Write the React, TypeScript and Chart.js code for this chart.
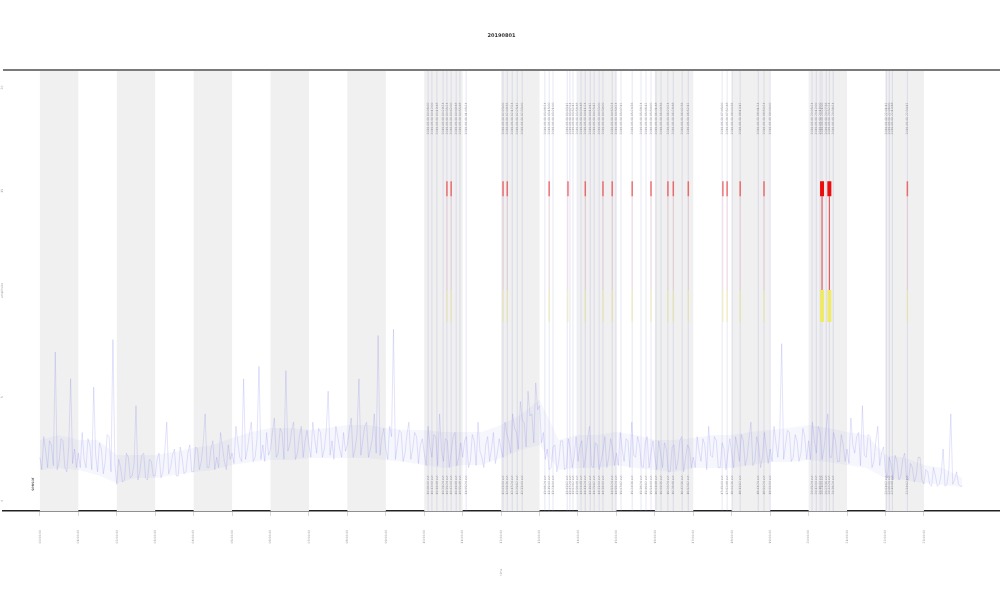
import { useEffect, useRef } from "react";
import { Chart, registerables } from "chart.js";

Chart.register(...registerables);

const TITLE = "20190801";
const X_TITLE = "time";
const Y_TITLE = "amplitude";
const SERIES_LABEL = "sensor";

const hourTicks = [0, 1, 2, 3, 4, 5, 6, 7, 8, 9, 10, 11, 12, 13, 14, 15, 16, 17, 18, 19, 20, 21, 22, 23];
const hourLabels = hourTicks.map((h) => `${String(h).padStart(2, "0")}:00:00`);
const shadeStarts = [0, 2, 4, 6, 8, 10, 12, 14, 16, 18, 20, 22];
const yTickValues = [0, 5, 10, 15, 20];
const yTickLabels = ["0", "5", "10", "15", "20"];

// signal sampled every 0.05 h (one row per hour)
const SAMPLE_STEP = 0.05;
const signal = [
  2.1, 1.5, 3.1, 2.4, 1.6, 2.9, 2.7, 1.7, 7.2, 1.5, 1.9, 3.0, 2.9, 1.6, 1.4, 2.6, 5.9, 1.8, 2.5, 1.6,
  2.3, 1.6, 3.3, 2.0, 1.6, 3.0, 2.7, 1.5, 5.5, 2.2, 1.4, 2.8, 2.5, 1.3, 1.9, 3.2, 3.1, 1.4, 7.8, 1.8,
  0.8, 2.0, 1.6, 0.9, 1.0, 2.3, 2.1, 1.1, 1.2, 1.8, 4.6, 1.0, 1.4, 2.2, 2.3, 1.1, 1.0, 2.0, 1.9, 1.2,
  1.2, 2.0, 2.3, 1.1, 1.4, 2.4, 3.8, 1.3, 1.6, 2.2, 2.5, 1.2, 1.2, 2.6, 2.1, 1.3, 1.4, 2.3, 2.7, 1.4,
  1.4, 2.6, 2.5, 1.5, 1.9, 2.8, 4.2, 1.6, 1.6, 2.5, 2.9, 1.5, 2.1, 1.6, 3.3, 2.6, 1.9, 1.5, 2.7, 2.0,
  2.3, 1.8, 3.6, 2.8, 2.1, 1.9, 5.9, 2.0, 2.5, 3.2, 3.8, 1.9, 2.1, 3.0, 6.5, 2.0, 2.7, 1.9, 3.3, 2.2,
  2.5, 3.3, 4.0, 2.1, 2.3, 3.5, 3.3, 2.0, 6.3, 2.4, 2.7, 3.4, 3.8, 2.0, 2.3, 3.1, 3.6, 2.1, 2.9, 3.4,
  2.7, 2.1, 3.8, 3.0, 2.3, 3.5, 3.3, 2.1, 2.5, 3.4, 5.3, 2.2, 2.9, 2.0, 3.6, 3.1, 2.5, 2.1, 3.3, 2.4,
  2.7, 3.4, 4.0, 2.1, 2.5, 3.2, 5.9, 2.2, 2.9, 3.6, 3.8, 2.1, 2.5, 3.0, 4.2, 2.3, 8.0, 2.2, 3.1, 3.5,
  2.5, 2.0, 3.6, 3.1, 8.3, 2.0, 2.7, 3.4, 3.3, 1.9, 2.3, 3.2, 3.8, 2.0, 2.5, 3.3, 3.1, 1.8, 2.7, 3.0,
  2.3, 1.7, 3.6, 2.6, 2.1, 3.2, 3.1, 1.7, 4.2, 2.4, 1.9, 3.0, 2.9, 1.6, 2.3, 3.1, 3.3, 1.7, 2.1, 2.8,
  2.1, 2.9, 3.1, 1.6, 1.9, 3.2, 2.9, 1.7, 3.8, 2.4, 2.1, 1.6, 2.7, 3.1, 1.9, 2.5, 3.3, 1.8, 2.3, 3.0,
  2.5, 2.1, 3.8, 3.2, 2.9, 2.3, 4.2, 3.5, 3.3, 2.5, 4.8, 3.9, 3.8, 2.6, 5.3, 4.1, 4.2, 2.8, 5.7, 4.4,
  4.6, 2.8, 3.3, 2.0, 2.5, 1.5, 1.6, 2.6, 2.7, 1.4, 1.9, 2.9, 2.9, 1.5, 1.6, 3.0, 2.5, 1.6, 2.1, 3.1,
  1.9, 2.6, 2.9, 1.6, 2.1, 3.0, 3.6, 1.7, 1.6, 2.8, 2.7, 1.5, 1.9, 2.4, 3.1, 1.6, 2.1, 3.0, 2.5, 1.7,
  2.3, 1.7, 3.3, 2.5, 1.9, 3.0, 2.9, 1.6, 3.8, 2.2, 2.1, 3.1, 2.7, 1.7, 1.6, 2.8, 3.1, 1.6, 2.3, 2.9,
  2.1, 1.5, 2.9, 2.3, 1.6, 2.8, 2.5, 1.4, 1.4, 2.6, 2.7, 1.5, 1.9, 2.9, 3.1, 1.4, 2.1, 2.7, 2.5, 1.6,
  2.1, 1.6, 3.1, 2.4, 1.9, 3.0, 2.7, 1.5, 3.6, 2.2, 2.1, 3.1, 2.9, 1.6, 1.6, 2.8, 2.5, 1.5, 2.3, 3.0,
  2.3, 1.6, 3.1, 2.6, 1.9, 3.2, 2.9, 1.7, 2.1, 3.0, 3.8, 1.7, 1.9, 3.1, 2.7, 1.6, 2.1, 3.3, 2.5, 1.8,
  2.5, 1.9, 3.6, 2.8, 2.1, 3.3, 7.6, 2.0, 2.7, 3.4, 3.3, 1.9, 2.1, 3.2, 2.9, 1.9, 2.3, 3.5, 3.1, 2.0,
  2.9, 2.0, 3.8, 2.9, 2.3, 3.6, 3.3, 2.0, 2.5, 3.4, 4.2, 2.1, 2.1, 3.3, 2.9, 1.9, 1.9, 3.2, 2.7, 1.9,
  2.5, 1.8, 4.0, 2.7, 2.3, 3.1, 3.3, 1.7, 4.6, 2.2, 2.1, 3.2, 3.1, 1.6, 1.9, 2.9, 3.6, 1.7, 2.3, 2.6,
  1.4, 1.1, 2.1, 1.7, 1.0, 2.2, 1.9, 1.0, 1.2, 2.0, 2.3, 1.0, 1.0, 1.8, 1.6, 0.9, 1.2, 2.1, 2.1, 1.0,
  0.8, 1.5, 1.4, 0.8, 0.7, 1.6, 1.2, 0.7, 0.8, 1.3, 2.5, 0.7, 0.8, 1.5, 4.2, 0.8, 1.0, 1.4, 0.8, 0.7,
  0.7,
];

// envelope of the dense signal band, every 0.5 h
const ENVELOPE_STEP = 0.5;
const bandLower = [
  1.49, 1.58, 1.49, 1.24, 0.86, 1.10, 1.10, 1.24, 1.39, 1.49,
  1.73, 1.87, 1.97, 1.97, 2.07, 2.07, 2.07, 2.07, 1.97, 1.87,
  1.73, 1.58, 1.73, 1.73, 2.07, 2.45, 2.70, 1.49, 1.58, 1.58,
  1.73, 1.58, 1.49, 1.39, 1.58, 1.58, 1.58, 1.73, 1.87, 1.87,
  1.97, 1.87, 1.73, 1.58, 1.10, 1.00, 0.86, 0.76, 0.66,
];
const bandUpper = [
  2.94, 3.18, 2.94, 2.94, 2.21, 2.21, 2.21, 2.36, 2.55, 2.70,
  3.03, 3.33, 3.52, 3.52, 3.42, 3.52, 3.66, 3.66, 3.52, 3.42,
  3.42, 3.33, 3.33, 3.33, 3.66, 4.15, 4.88, 2.94, 3.18, 3.18,
  3.33, 3.18, 2.94, 2.94, 3.03, 3.18, 3.18, 3.33, 3.42, 3.52,
  3.66, 3.52, 3.33, 3.18, 2.21, 2.07, 1.73, 1.58, 1.10,
];

// event times (hours)
const eventTimes = [
  10.10, 10.20, 10.33, 10.49, 10.59, 10.70, 10.83, 10.93, 11.09,
  12.05, 12.16, 12.29, 12.42, 12.55,
  13.14, 13.25, 13.35,
  13.72, 13.79, 13.87, 13.98, 14.08, 14.19, 14.32, 14.42, 14.55, 14.65,
  14.89, 14.99, 15.12,
  15.41, 15.64, 15.77, 15.90, 16.03, 16.16, 16.34, 16.48,
  16.71, 16.87,
  17.75, 17.88, 18.01, 18.22,
  18.69, 18.84, 19.00,
  20.09, 20.20, 20.30, 20.35, 20.46, 20.54, 20.64,
  22.02, 22.10, 22.18, 22.57,
];
// events that triggered an alarm
const alarmTimes = [
  10.59, 10.70, 12.05, 12.16, 13.25, 13.74, 14.19, 14.65, 14.89, 15.41,
  15.90, 16.34, 16.48, 16.87, 17.77, 17.88, 18.22, 18.84, 22.57,
];
const majorAlarmTimes = [20.35, 20.54];
// alarm levels
const ALARM_TOP = 15.47;
const ALARM_BOTTOM = 14.74;
const WARN_LEVEL = 10.2;
const NOTICE_LEVEL = 8.65;
const Y_MIN = -0.5;
const Y_MAX = 20.85;

function hhmmss(h: number) {
  const total = Math.round(h * 3600);
  const hh = Math.floor(total / 3600);
  const mm = Math.floor((total % 3600) / 60);
  const ss = total % 60;
  const p = (n: number) => String(n).padStart(2, "0");
  return `${p(hh)}:${p(mm)}:${p(ss)}`;
}

function segs(xs: number[], y0: number, y1: number) {
  const out: { x: number; y: number | null }[] = [];
  xs.forEach((x) => {
    out.push({ x, y: y0 }, { x, y: y1 }, { x, y: null });
  });
  return out;
}

const decorPlugin = {
  id: "decor",
  beforeDatasetsDraw(chart: any) {
    const { ctx, chartArea, scales } = chart;
    const xs = scales.x;
    ctx.save();
    ctx.fillStyle = "#f0f0f0";
    shadeStarts.forEach((s) => {
      const a = xs.getPixelForValue(s);
      const b = xs.getPixelForValue(s + 1);
      ctx.fillRect(a, chartArea.top, b - a, chartArea.bottom - chartArea.top);
    });
    ctx.restore();
  },
  afterDatasetsDraw(chart: any) {
    const { ctx, scales } = chart;
    const xs = scales.x;
    const ys = scales.y;
    ctx.save();
    ctx.font = "3px 'DejaVu Sans'";
    ctx.fillStyle = "rgba(60,60,60,0.5)";
    ctx.textAlign = "center";
    ctx.textBaseline = "middle";
    eventTimes.forEach((t) => {
      const px = xs.getPixelForValue(t);
      const topY = ys.getPixelForValue(18.5);
      const botY = ys.getPixelForValue(0.76);
      ctx.save();
      ctx.translate(px, topY);
      ctx.rotate(-Math.PI / 2);
      ctx.fillText(`2019-08-01 ${hhmmss(t)}`, 0, 0);
      ctx.restore();
      ctx.save();
      ctx.translate(px, botY);
      ctx.rotate(-Math.PI / 2);
      ctx.fillText(`${hhmmss(t)} evt`, 0, 0);
      ctx.restore();
    });
    ctx.save();
    ctx.font = "4px 'DejaVu Sans'";
    ctx.fillStyle = "#333";
    ctx.translate(xs.getPixelForValue(-0.18), ys.getPixelForValue(0.8));
    ctx.rotate(-Math.PI / 2);
    ctx.fillText(SERIES_LABEL, 0, 0);
    ctx.restore();
    ctx.restore();
  },
  afterDraw(chart: any) {
    const { ctx, chartArea, scales } = chart;
    const ys = scales.y;
    ctx.save();
    ctx.strokeStyle = "#7a7a7a";
    ctx.lineWidth = 2;
    ctx.beginPath();
    ctx.moveTo(chartArea.left, chartArea.top);
    ctx.lineTo(chartArea.right, chartArea.top);
    ctx.stroke();
    ctx.font = "3px 'DejaVu Sans'";
    ctx.fillStyle = "#9a9a9a";
    ctx.textAlign = "center";
    ctx.textBaseline = "middle";
    yTickValues.forEach((v, i) => {
      if (v === 10) return;
      ctx.save();
      ctx.translate(chartArea.left - 0.5, ys.getPixelForValue(v));
      ctx.rotate(-Math.PI / 2);
      ctx.fillText(yTickLabels[i], 0, 0);
      ctx.restore();
    });
    ctx.save();
    ctx.translate(chartArea.left - 0.5, (chartArea.top + chartArea.bottom) / 2);
    ctx.rotate(-Math.PI / 2);
    ctx.fillText(Y_TITLE, 0, 0);
    ctx.restore();
    ctx.save();
    ctx.fillStyle = "#999";
    ctx.translate((chartArea.left + chartArea.right) / 2, 572);
    ctx.rotate(-Math.PI / 2);
    ctx.fillText(X_TITLE, 0, 0);
    ctx.restore();
    ctx.restore();
  },
};

export default function App() {
  const ref = useRef<HTMLCanvasElement>(null);
  useEffect(() => {
    if (!ref.current) return;
    const signalData = signal.map((y, i) => ({ x: i * SAMPLE_STEP, y }));
    const lowerData = bandLower.map((y, i) => ({ x: i * ENVELOPE_STEP, y }));
    const upperData = bandUpper.map((y, i) => ({ x: i * ENVELOPE_STEP, y }));
    const chart = new Chart(ref.current, {
      type: "line",
      data: {
        datasets: [
          {
            label: "major alarm",
            data: segs(majorAlarmTimes, ALARM_BOTTOM, ALARM_TOP),
            borderColor: "rgba(235,0,0,0.95)",
            borderWidth: 4,
            pointRadius: 0,
            order: 0,
          },
          {
            label: "major alarm trace",
            data: segs(majorAlarmTimes, WARN_LEVEL, ALARM_BOTTOM),
            borderColor: "rgba(235,30,30,0.8)",
            borderWidth: 1,
            pointRadius: 0,
            order: 1,
          },
          {
            label: "major warn",
            data: segs(majorAlarmTimes, NOTICE_LEVEL, WARN_LEVEL),
            borderColor: "rgba(240,235,80,0.85)",
            borderWidth: 4,
            pointRadius: 0,
            order: 1,
          },
          {
            label: "alarm",
            data: segs(alarmTimes, ALARM_BOTTOM, ALARM_TOP),
            borderColor: "rgba(235,30,30,0.6)",
            borderWidth: 1.5,
            pointRadius: 0,
            order: 2,
          },
          {
            label: "alarm trace",
            data: segs(alarmTimes, WARN_LEVEL, ALARM_BOTTOM),
            borderColor: "rgba(235,60,60,0.12)",
            borderWidth: 1,
            pointRadius: 0,
            order: 3,
          },
          {
            label: "warn",
            data: segs(alarmTimes, NOTICE_LEVEL, WARN_LEVEL),
            borderColor: "rgba(240,230,90,0.3)",
            borderWidth: 1.5,
            pointRadius: 0,
            order: 3,
          },
          {
            label: SERIES_LABEL,
            data: signalData,
            borderColor: "rgba(110,110,235,0.32)",
            borderWidth: 0.6,
            pointRadius: 0,
            tension: 0,
            order: 4,
          },
          {
            label: "band upper",
            data: upperData,
            borderWidth: 0,
            borderColor: "rgba(0,0,0,0)",
            backgroundColor: "rgba(140,140,235,0.08)",
            pointRadius: 0,
            fill: "+1",
            order: 5,
          },
          {
            label: "band lower",
            data: lowerData,
            borderWidth: 0,
            borderColor: "rgba(0,0,0,0)",
            pointRadius: 0,
            fill: false,
            order: 5,
          },
          {
            label: "event",
            data: segs(eventTimes, Y_MIN, Y_MAX),
            borderColor: "rgba(150,150,215,0.3)",
            borderWidth: 0.8,
            pointRadius: 0,
            order: 6,
          },
        ],
      },
      options: {
        responsive: false,
        animation: false,
        layout: { padding: { left: 3, right: 0, top: 0, bottom: 0 } },
        plugins: {
          legend: { display: false },
          tooltip: { enabled: false },
          filler: { propagate: false },
          title: {
            display: true,
            text: TITLE,
            color: "#333",
            font: { size: 5, family: "'DejaVu Sans'", weight: "bold" },
            padding: { top: 33, bottom: 31 },
          },
        },
        scales: {
          x: {
            type: "linear",
            min: -0.96,
            max: 24.98,
            afterBuildTicks: (s: any) => {
              s.ticks = hourTicks.map((v) => ({ value: v }));
            },
            afterFit: (s: any) => {
              s.height = 89;
            },
            ticks: {
              minRotation: 90,
              maxRotation: 90,
              padding: 14,
              font: { size: 3, family: "'DejaVu Sans'" },
              color: "#999",
              callback: (v: any) => {
                const i = hourTicks.indexOf(Number(v));
                return i >= 0 ? hourLabels[i] : "";
              },
            },
            grid: {
              display: true,
              drawOnChartArea: false,
              drawTicks: true,
              tickLength: 5,
              color: "rgba(0,0,0,0.15)",
            },
            border: { display: true, color: "#222", width: 1.5 },
          },
          y: {
            type: "linear",
            min: Y_MIN,
            max: Y_MAX,
            display: false,
          },
        },
      },
      plugins: [decorPlugin],
    } as any);
    return () => chart.destroy();
  }, []);
  return (
    <div style={{ position: "absolute", left: 0, top: 0, width: 1000, height: 600, background: "#fff" }}>
      <canvas ref={ref} width={1000} height={600} />
    </div>
  );
}
